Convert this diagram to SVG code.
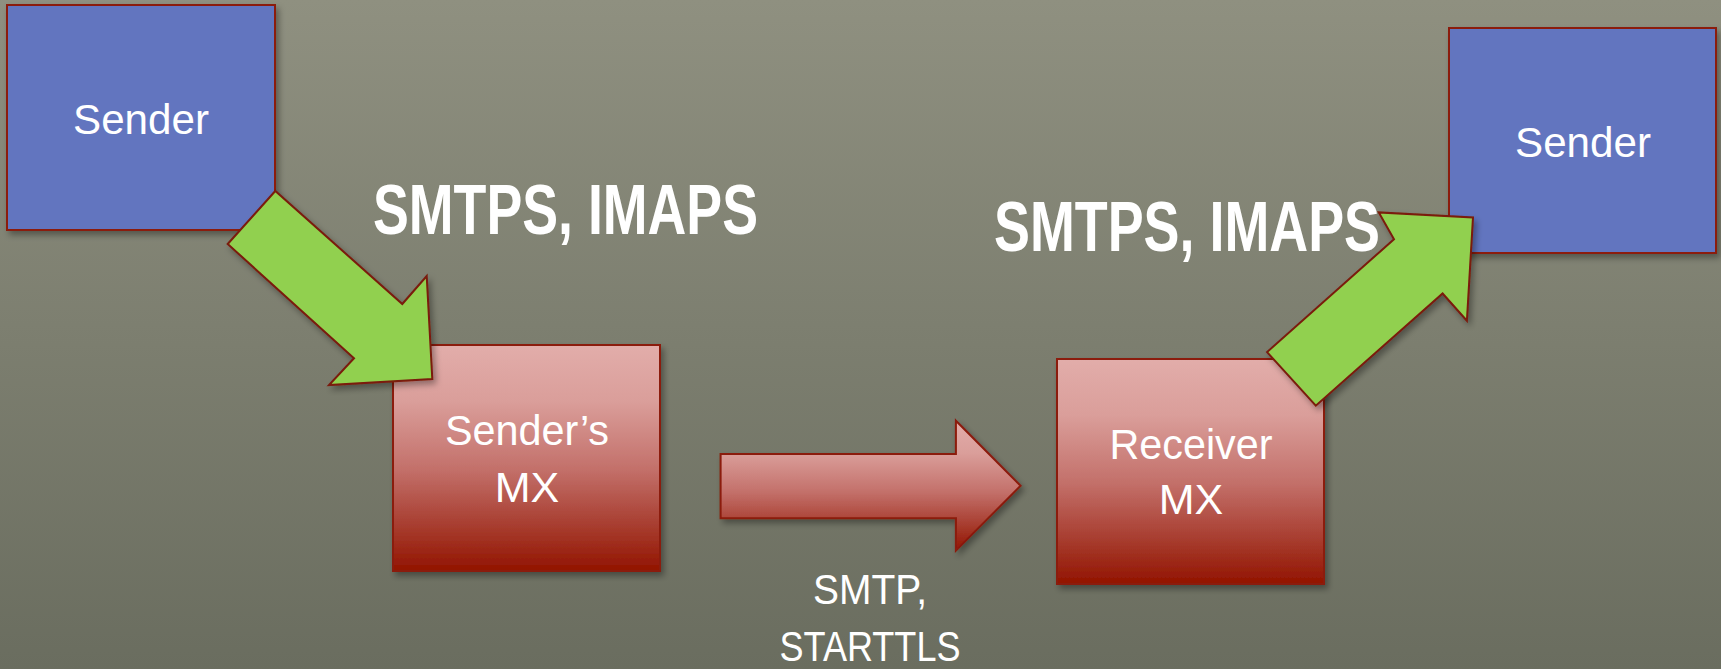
<svg xmlns="http://www.w3.org/2000/svg" width="1721" height="669" viewBox="0 0 1721 669">
<defs>
<linearGradient id="bg" x1="0" y1="0" x2="0" y2="1">
<stop offset="0" stop-color="#8F9080"/>
<stop offset="1" stop-color="#6A6D5F"/>
</linearGradient>
<linearGradient id="red" x1="0" y1="0" x2="0" y2="1">
<stop offset="0" stop-color="#E2ADAA"/>
<stop offset="0.25" stop-color="#DA9E9A"/>
<stop offset="0.55" stop-color="#C3706A"/>
<stop offset="1" stop-color="#921400"/>
</linearGradient>
<filter id="sh" x="-10%" y="-10%" width="130%" height="130%">
<feDropShadow dx="3" dy="4" stdDeviation="3" flood-color="#000" flood-opacity="0.35"/>
</filter>
<style>
.blue{fill:#6275BF;stroke:#8B1A0A;stroke-width:2;filter:url(#sh)}
.redbox{fill:url(#red);stroke:#8B1A0A;stroke-width:2;filter:url(#sh)}
.green{fill:#91D050;stroke:#7A1A0A;stroke-width:2;stroke-linejoin:miter;filter:url(#sh)}
.lbl{font-family:"Liberation Sans",Arial,sans-serif;fill:#FFFFFF;font-size:43px;text-anchor:middle}
.big{font-family:"Liberation Sans",Arial,sans-serif;fill:#FFFFFF;font-size:70px;font-weight:bold}
</style>
</defs>
<rect x="0" y="0" width="1721" height="669" fill="url(#bg)"/>

<g id="node-sender">
<rect class="blue" x="7" y="5" width="268" height="225"/>
<text class="lbl" x="141" y="134" textLength="136" lengthAdjust="spacingAndGlyphs">Sender</text>
</g>

<g id="node-senders-mx">
<rect class="redbox" x="393" y="345" width="267" height="226"/>
<text class="lbl" x="527" y="445" textLength="164" lengthAdjust="spacingAndGlyphs">Sender’s</text>
<text class="lbl" x="527" y="502">MX</text>
</g>

<g id="node-receiver-mx">
<rect class="redbox" x="1057" y="359" width="267" height="225"/>
<text class="lbl" x="1191" y="459" textLength="163" lengthAdjust="spacingAndGlyphs">Receiver</text>
<text class="lbl" x="1191" y="514">MX</text>
</g>

<g id="node-sender-right">
<rect class="blue" x="1449" y="28" width="267" height="225"/>
<text class="lbl" x="1583" y="157" textLength="136" lengthAdjust="spacingAndGlyphs">Sender</text>
</g>

<g id="connectors">
<polygon class="green" points="227.7,244 275.3,191 402.3,304 426.7,276 432.3,379 329,385 354,358.3"/>
<polygon class="redbox" points="720.6,454 955.9,454 955.9,420.7 1020.6,485.7 955.9,550.7 955.9,518.3 720.6,518.3"/>
<polygon class="green" points="1315.8,405.7 1267.1,352.1 1394,239.2 1378.8,212.4 1473,217.4 1466.9,320.7 1442.6,293.5"/>
</g>

<g id="labels">
<text class="big" x="373" y="234" textLength="385" lengthAdjust="spacingAndGlyphs">SMTPS, IMAPS</text>
<text class="big" x="994" y="251" textLength="386" lengthAdjust="spacingAndGlyphs">SMTPS, IMAPS</text>
<text class="lbl" x="870" y="604" textLength="114" lengthAdjust="spacingAndGlyphs">SMTP,</text>
<text class="lbl" x="870" y="661" textLength="181" lengthAdjust="spacingAndGlyphs">STARTTLS</text>
</g>
</svg>
